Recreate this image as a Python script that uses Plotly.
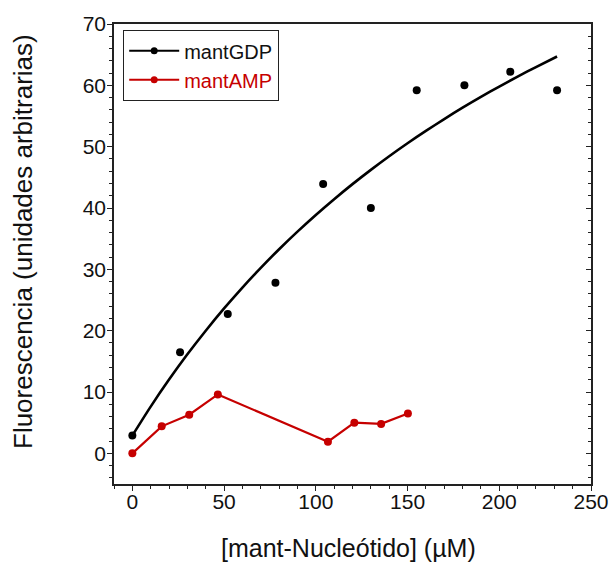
import plotly.graph_objects as go

# mantGDP data points
gdp_x = [0, 26, 52, 78, 104, 130, 155, 181, 206, 231.5]
gdp_y = [2.9, 16.5, 22.7, 27.8, 43.9, 40.0, 59.2, 60.0, 62.2, 59.2]

# fitted curve for mantGDP
fit_x = [0, 10, 20, 30, 40, 50, 60, 70, 80, 90, 100, 110, 120, 130, 140, 150,
         160, 170, 180, 190, 200, 210, 220, 231.5]
fit_y = [2.90, 7.62, 12.02, 16.14, 19.99, 23.62, 27.03, 30.24, 33.28, 36.15, 38.87, 41.44,
         43.89, 46.22, 48.44, 50.56, 52.57, 54.50, 56.35, 58.11, 59.80, 61.43, 62.98, 64.70]

# mantAMP data
amp_x = [0, 16, 31, 46.6, 106.6, 121, 135.6, 150.2]
amp_y = [0.0, 4.4, 6.3, 9.6, 1.9, 5.0, 4.8, 6.5]

x_ticks = [0, 50, 100, 150, 200, 250]
y_ticks = [0, 10, 20, 30, 40, 50, 60, 70]

BLACK = "#000000"
RED = "#c60000"
AX = "#222222"
FONT = "Liberation Sans, Arial, sans-serif"

fig = go.Figure()
fig.add_trace(go.Scatter(x=fit_x, y=fit_y, mode="lines", line=dict(color=BLACK, width=2.6, shape="spline", smoothing=0.8),
                         showlegend=False, hoverinfo="skip"))
fig.add_trace(go.Scatter(x=gdp_x, y=gdp_y, mode="markers", marker=dict(color=BLACK, size=8),
                         showlegend=False))
fig.add_trace(go.Scatter(x=amp_x, y=amp_y, mode="lines+markers", line=dict(color=RED, width=2.2),
                         marker=dict(color=RED, size=8), showlegend=False))
# legend entries
fig.add_trace(go.Scatter(x=[None], y=[None], mode="lines+markers", name="mantGDP",
                         line=dict(color=BLACK, width=2), marker=dict(color=BLACK, size=7)))
fig.add_trace(go.Scatter(x=[None], y=[None], mode="lines+markers",
                         name="<span style='color:%s'>mantAMP</span>" % RED,
                         line=dict(color=RED, width=2), marker=dict(color=RED, size=7)))
# right axis helper for inward ticks
fig.add_trace(go.Scatter(x=[None], y=[None], yaxis="y2", showlegend=False))

axis_common = dict(showgrid=False, zeroline=False, showline=True, linecolor=AX, linewidth=1.6,
                   tickfont=dict(family=FONT, size=21, color="#111111"), ticks="outside",
                   ticklen=5, tickwidth=1.2, tickcolor=AX, automargin=False)

L, R, T, B = 114, 21, 24, 78
W, H = 612, 562
plot_w = W - L - R
plot_h = H - T - B

fig.update_layout(
    width=W, height=H, autosize=False,
    margin=dict(l=L, r=R, t=T, b=B, autoexpand=False),
    paper_bgcolor="white", plot_bgcolor="white",
    font=dict(family=FONT, color="#111111"),
    xaxis=dict(range=[-10, 250], tickvals=x_ticks, mirror=True, ticklabelstandoff=-7,
               minor=dict(dtick=10, ticklen=3, ticks="outside", tickcolor=AX, tickwidth=1), **axis_common),
    yaxis=dict(range=[-5, 70], tickvals=y_ticks, mirror=True, ticklabelstandoff=-3,
               minor=dict(dtick=2, ticklen=3, ticks="outside", tickcolor=AX, tickwidth=1), **axis_common),
    yaxis2=dict(range=[-5, 70], overlaying="y", side="right", tickvals=y_ticks, showticklabels=False,
                ticks="inside", ticklen=5, tickwidth=1.2, tickcolor=AX, showgrid=False, zeroline=False,
                showline=False, automargin=False,
                minor=dict(dtick=2, ticklen=3, ticks="inside", tickcolor=AX, tickwidth=1)),
    legend=dict(x=(123 - L) / plot_w, y=(H - B - 30) / plot_h, xanchor="left", yanchor="top", bgcolor="white",
                bordercolor=AX, borderwidth=1.2,
                font=dict(family=FONT, size=20, color="#111111"), tracegroupgap=0,
                itemwidth=50),
    annotations=[
        dict(text="[mant-Nucleótido] (µM)", x=(348 - L) / plot_w, y=(H - B - 548) / plot_h,
             xref="paper", yref="paper", xanchor="center", yanchor="middle",
             showarrow=False, font=dict(family=FONT, size=25, color="#111111")),
        dict(text="Fluorescencia (unidades arbitrarias)", x=(23 - L) / plot_w, y=(H - B - 242) / plot_h,
             xref="paper", yref="paper", xanchor="center", yanchor="middle",
             showarrow=False, textangle=-90, font=dict(family=FONT, size=26, color="#111111")),
    ],
)

fig.write_html(
    "out.html",
    config={"displayModeBar": False, "responsive": False},
    default_width="612px", default_height="562px",
    post_script="document.documentElement.style.overflow='hidden';document.body.style.margin='0';document.body.style.padding='0';document.body.style.overflow='hidden';",
)
